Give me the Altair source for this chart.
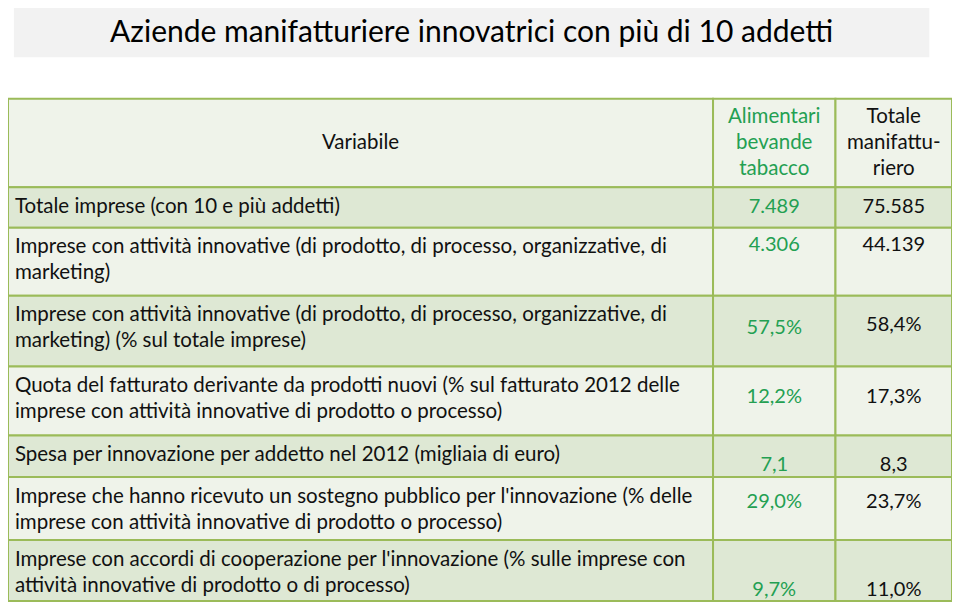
import altair as alt
import pandas as pd

# ---------------- data ----------------
title = "Aziende manifatturiere innovatrici con più di 10 addetti"
header_variabile = ["Variabile"]
header_alimentari = ["Alimentari", "bevande", "tabacco"]
header_totale = ["Totale", "manifattu-", "riero"]

variabili = [
    ["Totale imprese (con 10 e più addetti)"],
    ["Imprese con attività innovative (di prodotto, di processo, organizzative, di",
     "marketing)"],
    ["Imprese con attività innovative (di prodotto, di processo, organizzative, di",
     "marketing) (% sul totale imprese)"],
    ["Quota del fatturato derivante da prodotti nuovi (% sul fatturato 2012 delle",
     "imprese con attività innovative di prodotto o processo)"],
    ["Spesa per innovazione per addetto nel 2012 (migliaia di euro)"],
    ["\u00a0Imprese che hanno ricevuto un sostegno pubblico per l'innovazione (% delle",
     "imprese con attività innovative di prodotto o processo)"],
    ["Imprese con accordi di cooperazione per l'innovazione  (% sulle imprese con",
     "attività innovative di prodotto o di processo)"],
]
alimentari = ["7.489", "4.306", "57,5%", "12,2%", "7,1", "29,0%", "9,7%"]
totale = ["75.585", "44.139", "58,4%", "17,3%", "8,3", "23,7%", "11,0%"]

# ---------------- layout (reference pixel space) ----------------
col_edges = [2, 716, 840, 958]
row_edges = [94, 184, 225, 294, 366, 436, 478, 542, 604]
value_offset_alim = [20, 18, 33, 31, 30, 25, 51]
value_offset_tot = [20, 18, 30, 31, 30, 25, 51]
label_dx = [0, 0, 0, 0, 0, 3, 0]
title_box = (8, 935, 2, 52)
line_h = 26.5

GREEN_TXT = "#23a052"
LINE = "#9bbb59"
LIGHT = "#eff3ea"
DARK = "#dee8d4"
LABEL_SIZE = 20.5
VALUE_SIZE = 20

rects = []
for r in range(len(row_edges) - 1):
    fill = LIGHT if r % 2 == 0 else DARK
    for c in range(len(col_edges) - 1):
        rects.append(dict(x1=col_edges[c], x2=col_edges[c + 1],
                          y1=row_edges[r], y2=row_edges[r + 1], fill=fill))
rects_df = pd.DataFrame(rects)

left_txt = []
center_txt = []
# header
hy = (row_edges[0] + row_edges[1]) / 2
center_txt.append(dict(t=header_variabile[0], x=(col_edges[0] + col_edges[1]) / 2, y=hy, color="#111111", size=LABEL_SIZE))
for i, s in enumerate(header_alimentari):
    center_txt.append(dict(t=s, x=(col_edges[1] + col_edges[2]) / 2, y=hy + (i - 1) * line_h, color=GREEN_TXT, size=LABEL_SIZE))
for i, s in enumerate(header_totale):
    center_txt.append(dict(t=s, x=(col_edges[2] + col_edges[3]) / 2, y=hy + (i - 1) * line_h, color="#111111", size=LABEL_SIZE))

for r, lines in enumerate(variabili):
    top = row_edges[r + 1]
    for i, s in enumerate(lines):
        left_txt.append(dict(t=s, x=col_edges[0] + 7, y=top + 20 + i * line_h, color="#111111", size=LABEL_SIZE))
    center_txt.append(dict(t=alimentari[r], x=(col_edges[1] + col_edges[2]) / 2,
                           y=top + value_offset_alim[r], color=GREEN_TXT, size=VALUE_SIZE))
    center_txt.append(dict(t=totale[r], x=(col_edges[2] + col_edges[3]) / 2,
                           y=top + value_offset_tot[r], color="#111111", size=VALUE_SIZE))

left_df = pd.DataFrame(left_txt)
center_df = pd.DataFrame(center_txt)
title_df = pd.DataFrame([dict(t=title, x1=title_box[0], x2=title_box[1], y1=title_box[2], y2=title_box[3],
                              x=(title_box[0] + title_box[1]) / 2, y=(title_box[2] + title_box[3]) / 2)])

W, H = 944, 595
xs = alt.Scale(domain=[2, 958], range=[0, W], nice=False, zero=False)
ys = alt.Scale(domain=[2, 606], range=[0, H], nice=False, zero=False)
FONT = "Lato"

title_box_l = alt.Chart(title_df).mark_rect(fill="#f2f2f2").encode(
    x=alt.X("x1:Q", scale=xs, axis=None), x2="x2:Q",
    y=alt.Y("y1:Q", scale=ys, axis=None), y2="y2:Q")
title_txt_l = alt.Chart(title_df).mark_text(font=FONT, fontSize=30, color="#000000",
                                              align="center", baseline="middle").encode(
    x=alt.X("x:Q", scale=xs, axis=None), y=alt.Y("y:Q", scale=ys, axis=None), text="t:N")

cells = alt.Chart(rects_df).mark_rect(stroke=LINE, strokeWidth=2).encode(
    x=alt.X("x1:Q", scale=xs, axis=None), x2="x2:Q",
    y=alt.Y("y1:Q", scale=ys, axis=None), y2="y2:Q",
    fill=alt.Fill("fill:N", scale=None))

left_l = alt.Chart(left_df).mark_text(font=FONT, align="left", baseline="middle").encode(
    x=alt.X("x:Q", scale=xs, axis=None), y=alt.Y("y:Q", scale=ys, axis=None),
    text="t:N", color=alt.Color("color:N", scale=None), size=alt.Size("size:Q", scale=None))
center_l = alt.Chart(center_df).mark_text(font=FONT, align="center", baseline="middle").encode(
    x=alt.X("x:Q", scale=xs, axis=None), y=alt.Y("y:Q", scale=ys, axis=None),
    text="t:N", color=alt.Color("color:N", scale=None), size=alt.Size("size:Q", scale=None))

chart = alt.layer(title_box_l, title_txt_l, cells, left_l, center_l).properties(
    width=W, height=H, padding=0, autosize=alt.AutoSizeParams(type="none"),
    background="white"
).configure_view(stroke=None)

chart.save("out.html", embed_options={"renderer": "svg", "actions": False})
